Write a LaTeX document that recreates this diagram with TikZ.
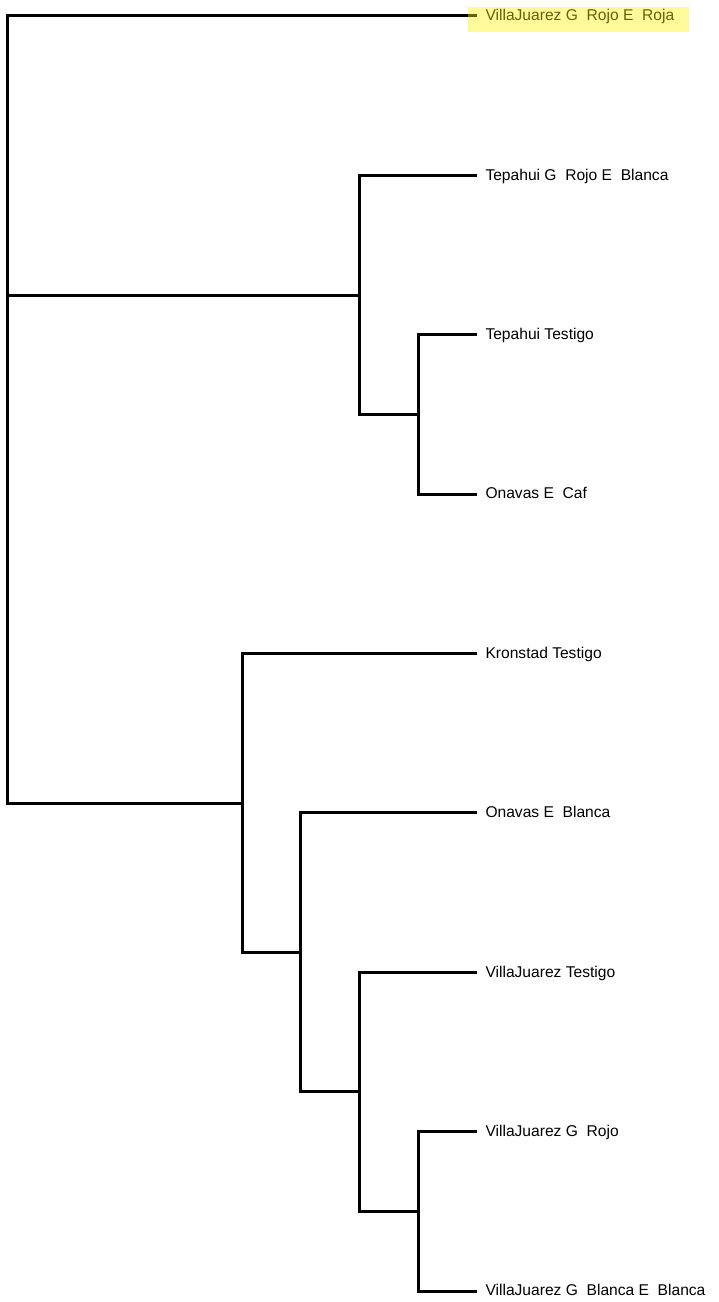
\documentclass[tikz,border=0pt]{standalone}
\usepackage{fontspec}
\setmainfont{Liberation Sans}

\tikzset{every picture/.style={line width=2.25pt}}
\tikzset{leaf/.style={anchor=west, inner xsep=5.25pt, inner ysep=0pt, text height=0.716em, text depth=0pt, font=\fontsize{11.7}{14}\selectfont}}

\begin{document}
\begin{tikzpicture}[x=0.75pt,y=0.75pt,yscale=-1,xscale=1]
	%set diagram to 718 x 1302
	\path[use as bounding box] (0,0) rectangle (718,1302);
	
	% Inner nodes
	\coordinate (root) at (7,409.5);
	\coordinate (nUp) at (359,295);
	\coordinate (nUpB) at (418,414.5);
	\coordinate (nLow) at (242,803);
	\coordinate (nLowB) at (300,952.4);
	\coordinate (nLowC) at (359,1091.8);
	\coordinate (nLowD) at (418,1211.3);
	
	% Text Node
	\node [leaf] (vjRoja) at (477,16) {VillaJuarez G\ \ Rojo E\ \ Roja};
	% Text Node
	\node [leaf] (tpBlanca) at (477,175.4) {Tepahui G\ \ Rojo E\ \ Blanca};
	% Text Node
	\node [leaf] (tpTestigo) at (477,334.8) {Tepahui Testigo};
	% Text Node
	\node [leaf] (onCaf) at (477,494.1) {Onavas E\ \ Caf};
	% Text Node
	\node [leaf] (krTestigo) at (477,653.5) {Kronstad Testigo};
	% Text Node
	\node [leaf] (onBlanca) at (477,812.9) {Onavas E\ \ Blanca};
	% Text Node
	\node [leaf] (vjTestigo) at (477,972.3) {VillaJuarez Testigo};
	% Text Node
	\node [leaf] (vjRojo) at (477,1131.6) {VillaJuarez G\ \ Rojo};
	% Text Node
	\node [leaf] (vjBlanca) at (477,1291) {VillaJuarez G\ \ Blanca E\ \ Blanca};
	
	% Branches
	\draw (root) |- (vjRoja.west);
	\draw (root) |- (nUp);
	\draw (root) |- (nLow);
	\draw (nUp) |- (tpBlanca.west);
	\draw (nUp) |- (nUpB);
	\draw (nUpB) |- (tpTestigo.west);
	\draw (nUpB) |- (onCaf.west);
	\draw (nLow) |- (krTestigo.west);
	\draw (nLow) |- (nLowB);
	\draw (nLowB) |- (onBlanca.west);
	\draw (nLowB) |- (nLowC);
	\draw (nLowC) |- (vjTestigo.west);
	\draw (nLowC) |- (nLowD);
	\draw (nLowD) |- (vjRojo.west);
	\draw (nLowD) |- (vjBlanca.west);
	
	%Shape: Highlight
	\fill [color=yellow, fill opacity=0.4] (468,7) rectangle (689,32);
	
\end{tikzpicture}
\end{document}
